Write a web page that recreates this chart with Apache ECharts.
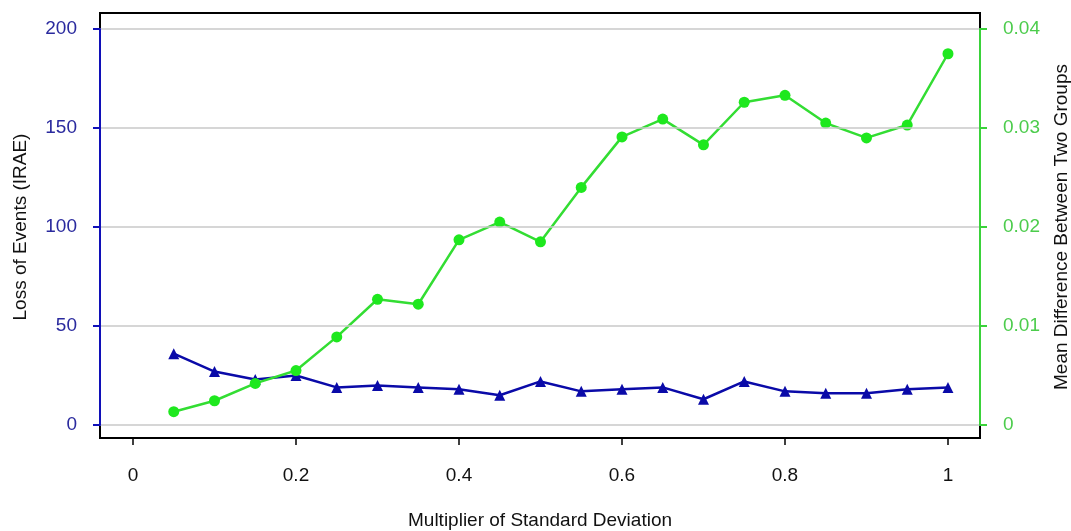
<!DOCTYPE html>
<html>
<head>
<meta charset="utf-8">
<script src="https://cdn.jsdelivr.net/npm/echarts@6/dist/echarts.min.js"></script>
<style>
html,body{margin:0;padding:0;background:#fff;}
#chart{width:1071px;height:531px;}
</style>
</head>
<body>
<div id="chart"></div>
<script>
var multipliers = [0.05,0.1,0.15,0.2,0.25,0.3,0.35,0.4,0.45,0.5,0.55,0.6,0.65,0.7,0.75,0.8,0.85,0.9,0.95,1.0];
var lossOfEvents = [36,27,23,25,19,20,19,18,15,22,17,18,19,13,22,17,16,16,18,19];
var meanDifference = [0.00134,0.00245,0.0042,0.0055,0.0089,0.0127,0.0122,0.0187,0.0205,0.0185,0.0240,0.0291,0.0309,0.0283,0.0326,0.0333,0.0305,0.0290,0.0303,0.0375];
var xTicks = [0,0.2,0.4,0.6,0.8,1];
var leftTicks = [0,50,100,150,200];
var rightTicks = [0,0.01,0.02,0.03,0.04];

var FONT = '"Liberation Sans", Arial, sans-serif';
var FS = 19;
var chart = echarts.init(document.getElementById('chart'));
chart.setOption({
  animation: false,
  backgroundColor: '#ffffff',
  textStyle: {fontFamily: FONT},
  grid: {left: 100, right: 91, top: 29, bottom: 106, containLabel: false, outerBoundsMode: 'none'},
  graphic: [{
    type: 'rect', z: -10, zlevel: 0,
    shape: {x: 100, y: 13, width: 880, height: 425},
    style: {fill: 'none', stroke: '#000', lineWidth: 2}
  }],
  xAxis: {
    type: 'value', min: -0.0405, max: 1.0393, offset: 13,
    axisLine: {show: false, onZero: false},
    splitLine: {show: false},
    axisTick: {show: true, length: 7, customValues: xTicks, lineStyle: {color: '#000', width: 1.5}},
    axisLabel: {customValues: xTicks, color: '#111', fontSize: FS, fontFamily: FONT, margin: 28,
      formatter: function(v){ return String(v); }},
    name: 'Multiplier of Standard Deviation', nameLocation: 'middle', nameGap: 73,
    nameTextStyle: {color: '#111', fontSize: FS, fontFamily: FONT}
  },
  yAxis: [{
    type: 'value', min: leftTicks[0], max: leftTicks[leftTicks.length-1], interval: 50, position: 'left', z: 5,
    axisLine: {show: true, onZero: false, lineStyle: {color: '#1010b8', width: 2}},
    axisTick: {show: true, length: 7, lineStyle: {color: '#1010b8', width: 2}},
    axisLabel: {color: '#2a2a9e', fontSize: FS, fontFamily: FONT, margin: 23},
    splitLine: {show: true, lineStyle: {color: '#c8c8c8', width: 1.5}},
    name: 'Loss of Events (IRAE)', nameLocation: 'middle', nameGap: 70, nameRotate: 90,
    nameTextStyle: {color: '#111', fontSize: FS, fontFamily: FONT}
  }, {
    type: 'value', min: rightTicks[0], max: rightTicks[rightTicks.length-1], interval: 0.01, position: 'right', z: 5,
    axisLine: {show: true, onZero: false, lineStyle: {color: '#3ad23a', width: 2}},
    axisTick: {show: true, length: 7, lineStyle: {color: '#3ad23a', width: 2}},
    axisLabel: {color: '#4ccc4c', fontSize: FS, fontFamily: FONT, margin: 23},
    splitLine: {show: false},
    name: 'Mean Difference Between Two Groups', nameLocation: 'middle', nameGap: 72, nameRotate: 90,
    nameTextStyle: {color: '#111', fontSize: FS, fontFamily: FONT}
  }],
  series: [{
    name: 'Loss of Events', type: 'line', yAxisIndex: 0,
    data: multipliers.map(function(x,i){ return [x, lossOfEvents[i]]; }),
    symbol: 'triangle', symbolSize: 11,
    lineStyle: {color: '#0a0aa8', width: 2.5},
    itemStyle: {color: '#0a0aa8'}
  }, {
    name: 'Mean Difference', type: 'line', yAxisIndex: 1,
    data: multipliers.map(function(x,i){ return [x, meanDifference[i]]; }),
    symbol: 'circle', symbolSize: 11,
    lineStyle: {color: '#33dd33', width: 2.5},
    itemStyle: {color: '#1ee81e'}
  }]
});
</script>
</body>
</html>
